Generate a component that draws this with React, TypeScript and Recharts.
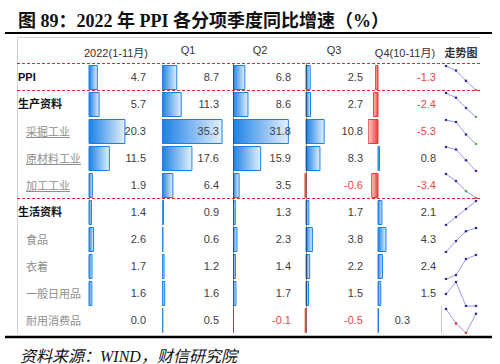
import { BarChart, Bar, XAxis, YAxis, Cell, LineChart, Line } from "recharts";

const ROWS = ["PPI", "生产资料", "采掘工业", "原材料工业", "加工工业", "生活资料", "食品", "衣着", "一般日用品", "耐用消费品"];
const Y2022 = [4.7, 5.7, 20.3, 11.5, 1.9, 1.4, 2.6, 1.7, 1.6, 0.0];
const Q1 = [8.7, 11.3, 35.3, 17.6, 6.4, 0.9, 0.6, 1.2, 1.6, 0.5];
const Q2 = [6.8, 8.6, 31.8, 15.9, 3.5, 1.3, 2.3, 1.4, 1.7, -0.1];
const Q3 = [2.5, 2.7, 10.8, 8.3, -0.6, 1.7, 3.8, 2.2, 1.5, -0.5];
const Q4 = [-1.3, -2.4, -5.3, 0.8, -3.4, 2.1, 4.3, 2.4, 1.5, 0.3];
const HEADERS = ["2022(1-11月)", "Q1", "Q2", "Q3", "Q4(10-11月)", "走势图"];

const MAIN_ROWS = ["PPI", "生产资料", "生活资料"];
const LINKED_ROWS = ["采掘工业", "原材料工业", "加工工业"];

const TOP = 63.5;
const ROW_H = 27;
const SANS = '"Liberation Sans", Arial, "Noto Sans CJK SC", sans-serif';
const CJK = '"Noto Sans CJK SC", sans-serif';
const BLUE = "#1a80e6";
const RED = "#f03a3a";
const RED_TEXT = "#e8484c";

// layout of each data-bar column (px)
const COLS = [
  { id: "y2022", values: Y2022, left: 88, right: 162, axis: 89, scale: 1.77, textRight: 146, head: 116 },
  { id: "q1", values: Q1, left: 162, right: 233, axis: 162, scale: 1.7, textRight: 219, head: 188 },
  { id: "q2", values: Q2, left: 233, right: 304, axis: 233, scale: 1.74, textRight: 291, head: 260 },
  { id: "q3", values: Q3, left: 304, right: 368, axis: 306, scale: 1.68, textRight: 363, head: 334 },
  { id: "q4", values: Q4, left: 368, right: 441, axis: 378, scale: 1.85, textRight: 436, head: 405 },
];
const SPARK_HEAD = 461;

function BarColumn({ col }: { col: any }) {
  const data = ROWS.map((name, i) => ({ name, v: col.values[i] }));
  const w = col.right - col.left;
  const domain = [(col.left - col.axis) / col.scale, (col.right - col.axis) / col.scale];
  return (
    <div style={{ position: "absolute", left: col.left, top: TOP }}>
      <BarChart width={w} height={ROW_H * ROWS.length} data={data} layout="vertical"
        margin={{ top: 0, right: 0, bottom: 0, left: 0 }} barCategoryGap={1.5}>
        <defs>
          <linearGradient id={`pos-${col.id}`} x1="0" y1="0" x2="1" y2="0">
            <stop offset="0%" stopColor={BLUE} />
            <stop offset="100%" stopColor="#e4f0fc" />
          </linearGradient>
          <linearGradient id={`neg-${col.id}`} x1="0" y1="0" x2="1" y2="0">
            <stop offset="0%" stopColor="#ffd0d0" />
            <stop offset="100%" stopColor={RED} />
          </linearGradient>
        </defs>
        <XAxis type="number" hide domain={domain} allowDataOverflow />
        <YAxis type="category" dataKey="name" hide />
        <Bar dataKey="v" isAnimationActive={false}>
          {data.map((d, i) => (
            <Cell key={i} fill={d.v < 0 ? `url(#neg-${col.id})` : `url(#pos-${col.id})`}
              stroke={d.v < 0 ? RED : BLUE} strokeWidth={1} />
          ))}
        </Bar>
      </BarChart>
    </div>
  );
}

function Spark({ idx }: { idx: number }) {
  const vals = [Q1[idx], Q2[idx], Q3[idx], Q4[idx]];
  const data = vals.map((v, i) => ({ i, v }));
  const negColor = ROWS[idx] === "耐用消费品" ? "#e03a3a" : "#5aa85a";
  return (
    <div style={{ position: "absolute", left: 441, top: TOP + idx * ROW_H }}>
      <LineChart width={40} height={ROW_H} data={data} margin={{ top: 2, right: 5, bottom: 1, left: 5 }}>
        <XAxis type="number" dataKey="i" domain={[0, 3]} hide />
        <YAxis hide domain={["dataMin", "dataMax"]} />
        <Line dataKey="v" stroke="#8c8ce8" strokeWidth={0.9} isAnimationActive={false}
          dot={(p: any) => (
            <circle key={p.index} cx={p.cx} cy={p.cy} r={1.3} fill={p.value < 0 ? negColor : "#2c2c9c"} />
          )} />
      </LineChart>
    </div>
  );
}

export default function App() {
  const dashedYs = [TOP, TOP + ROW_H, TOP + ROW_H * 5];
  return (
    <div style={{ position: "absolute", left: 0, top: 0, width: 500, height: 364, background: "#fff", overflow: "hidden" }}>
      <div style={{ position: "absolute", left: 18, top: 6, fontSize: 18, fontWeight: "bold", whiteSpace: "nowrap",
        fontFamily: '"Liberation Serif", "Times New Roman", "Noto Sans CJK SC", serif', color: "#111" }}>
        图 89：2022 年 PPI 各分项季度同比增速（%）
      </div>

      {HEADERS.map((h, i) => (
        <div key={h} style={{ position: "absolute", top: 44, left: (i < 5 ? COLS[i].head : SPARK_HEAD) - 50, width: 100,
          textAlign: "center", fontSize: 11, fontFamily: SANS, color: "#333", fontWeight: i === 5 ? "bold" : "normal",
          whiteSpace: "nowrap" }}>
          {h}
        </div>
      ))}

      {ROWS.map((r, i) => {
        const main = MAIN_ROWS.includes(r);
        return (
          <div key={r} style={{ position: "absolute", left: main ? 18 : 26, top: TOP + i * ROW_H + 6, fontSize: 11,
            fontFamily: main ? SANS : CJK, fontWeight: main ? "bold" : "normal", color: main ? "#111" : "#8f8f8f",
            textDecoration: LINKED_ROWS.includes(r) ? "underline" : "none", whiteSpace: "nowrap", lineHeight: "15px" }}>
            {r}
          </div>
        );
      })}

      {COLS.map((c) => <BarColumn key={c.id} col={c} />)}
      {ROWS.map((r, i) => <Spark key={r} idx={i} />)}

      <svg width={500} height={364} style={{ position: "absolute", left: 0, top: 0, pointerEvents: "none" }}>
        <line x1={5} x2={492} y1={33} y2={33} stroke="#000" strokeWidth={2} />
        <line x1={17} x2={480} y1={37.5} y2={37.5} stroke="#d4d4d4" strokeWidth={1} />
        <line x1={17.5} x2={17.5} y1={37} y2={334} stroke="#d4d4d4" strokeWidth={1} />
        <line x1={233.5} x2={233.5} y1={TOP} y2={TOP + ROW_H * 10} stroke="#222" strokeWidth={1} strokeDasharray="1 1" />
        <line x1={306.5} x2={306.5} y1={TOP} y2={TOP + ROW_H * 10} stroke="#222" strokeWidth={1} strokeDasharray="1 1" />
        <line x1={441.5} x2={441.5} y1={TOP + ROW_H * 9} y2={TOP + ROW_H * 10} stroke="#c8c8c8" strokeWidth={1} />
        {dashedYs.map((y) => (
          <line key={y} x1={17} x2={480} y1={y} y2={y} stroke="#e02828" strokeWidth={1} strokeDasharray="3 2" />
        ))}
        {COLS.map((c) =>
          c.values.map((v: number, i: number) => (
            <text key={c.id + i} x={c.id === "q4" && i === 9 ? 410 : c.textRight} y={TOP + i * ROW_H + ROW_H / 2}
              dy="0.36em" textAnchor="end" fontSize={11} fontFamily={SANS} fill={v < 0 ? RED_TEXT : "#404040"}>
              {v.toFixed(1)}
            </text>
          ))
        )}
        <line x1={5} x2={492} y1={337} y2={337} stroke="#000" strokeWidth={2.5} />
      </svg>

      <div style={{ position: "absolute", left: 20, top: 343, fontSize: 16, fontStyle: "italic", whiteSpace: "nowrap",
        fontFamily: '"Liberation Serif", "Times New Roman", "Noto Sans CJK SC", serif', color: "#111" }}>
        资料来源：WIND，财信研究院
      </div>
    </div>
  );
}
